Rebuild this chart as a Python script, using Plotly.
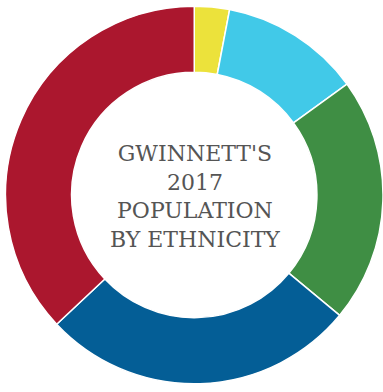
import plotly.graph_objects as go

# Gwinnett County 2017 population share by ethnicity (percent)
groups = ["Other", "Asian", "Hispanic", "Black", "White"]
shares = [3, 12, 21, 27, 37]
colors = ["#ECE23B", "#41C9E8", "#3F8E44", "#045E96", "#AB172E"]

fig = go.Figure(
    go.Pie(
        labels=groups,
        values=shares,
        hole=0.65,
        sort=False,
        direction="clockwise",
        rotation=0,
        marker=dict(colors=colors, line=dict(color="white", width=1.5)),
        textinfo="none",
        hoverinfo="label+percent",
        showlegend=False,
        domain=dict(x=[0.0144, 1.0], y=[0.0204, 0.9847]),
    )
)

fig.add_annotation(
    text="GWINNETT'S<br>2017<br>POPULATION<br>BY ETHNICITY",
    x=194.5 / 383,
    y=1 - 196 / 392,
    xref="paper",
    yref="paper",
    showarrow=False,
    align="center",
    font=dict(family="DejaVu Serif", size=22, color="#555555"),
)

fig.update_layout(
    width=383,
    height=392,
    margin=dict(l=0, r=0, t=0, b=0),
    paper_bgcolor="white",
    plot_bgcolor="white",
)

fig.write_html("out.html")
